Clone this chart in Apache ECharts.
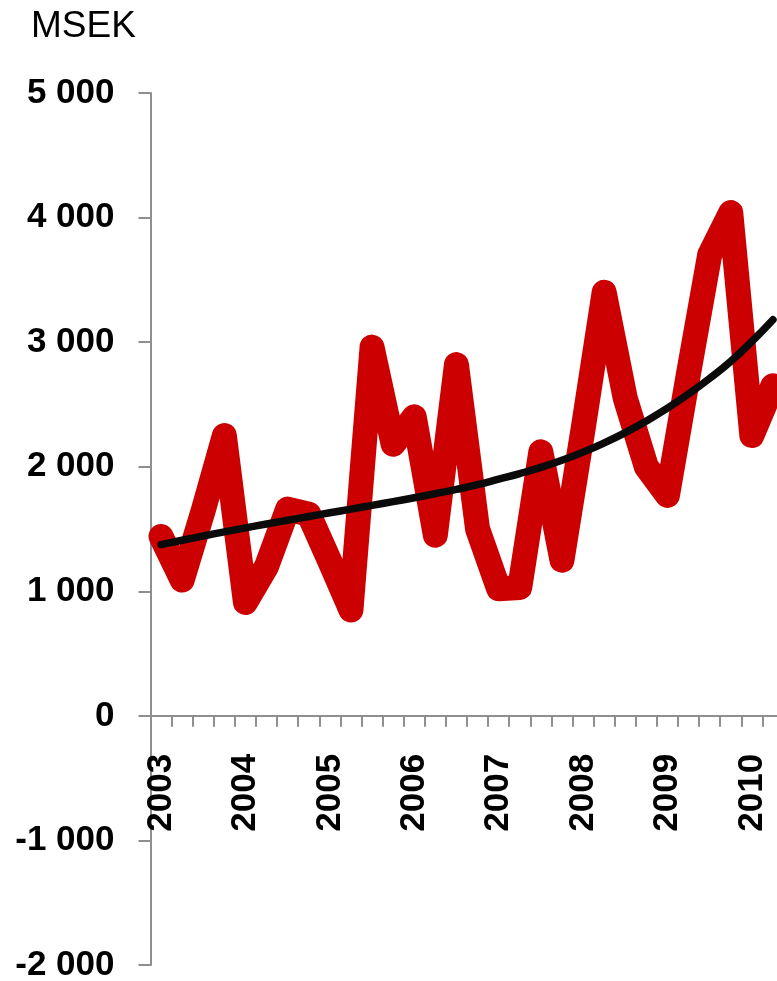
<!DOCTYPE html>
<html>
<head>
<meta charset="utf-8">
<style>
  html, body { margin: 0; padding: 0; background: #fff; overflow: hidden; }
  #chart { width: 790px; height: 981px; }
</style>
<script src="https://cdn.jsdelivr.net/npm/echarts@6/dist/echarts.min.js"></script>
</head>
<body>
<div id="chart"></div>
<script>
// Quarterly periods, 2003 Q1 – 2010 Q2
const quarters = [
  '2003Q1','2003Q2','2003Q3','2003Q4',
  '2004Q1','2004Q2','2004Q3','2004Q4',
  '2005Q1','2005Q2','2005Q3','2005Q4',
  '2006Q1','2006Q2','2006Q3','2006Q4',
  '2007Q1','2007Q2','2007Q3','2007Q4',
  '2008Q1','2008Q2','2008Q3','2008Q4',
  '2009Q1','2009Q2','2009Q3','2009Q4',
  '2010Q1','2010Q2'
];

// Quarterly value, MSEK
const quarterly = [
  1440, 1090, 1650, 2250,
  910, 1200, 1660, 1620,
  1240, 850, 2960, 2180,
  2400, 1450, 2820, 1500,
  1020, 1030, 2120, 1250,
  2300, 3400, 2550, 2000,
  1770, 2750, 3700, 4040,
  2250, 2650
];

// Trend, MSEK
const trend = [
  1375, 1410, 1444, 1477,
  1509, 1540, 1570, 1600,
  1630, 1660, 1690, 1720,
  1751, 1784, 1818, 1856,
  1900, 1945, 1995, 2052,
  2117, 2191, 2274, 2367,
  2470, 2584, 2709, 2846,
  3005, 3180
];

const yMin = -2000, yMax = 5000, yStep = 1000;
const unitLabel = 'MSEK';

const fontFamily = '"Liberation Sans", Arial, sans-serif';

// Plot area
const gridTop = 93, gridHeight = 872, gridLeft = 150.5, gridWidth = 633;
// Distance from the bottom of the plot area up to the zero line
const zeroLift = gridHeight * (0 - yMin) / (yMax - yMin);

function fmtThousands(v) {
  const neg = v < 0;
  const s = String(Math.abs(v)).replace(/\B(?=(\d{3})+(?!\d))/g, ' ');
  return (neg ? '-' : '') + s;
}

const chart = echarts.init(document.getElementById('chart'), null, { renderer: 'canvas' });

chart.setOption({
  backgroundColor: '#ffffff',
  animation: false,
  title: {
    text: unitLabel,
    left: 31,
    top: 8,
    padding: 0,
    textStyle: {
      fontFamily: fontFamily,
      fontWeight: 'normal',
      fontSize: 37,
      color: '#000'
    }
  },
  grid: {
    left: gridLeft,
    top: gridTop,
    width: gridWidth,
    height: gridHeight,
    containLabel: false,
    outerBoundsMode: 'none'
  },
  xAxis: {
    type: 'category',
    data: quarters,
    boundaryGap: true,
    position: 'bottom',
    offset: -zeroLift,
    axisLine: {
      onZero: false,
      lineStyle: { color: '#8e8e8e', width: 2 }
    },
    axisTick: {
      show: true,
      interval: 0,
      length: 11,
      lineStyle: { color: '#8e8e8e', width: 2 }
    },
    axisLabel: {
      interval: 3,
      rotate: 90,
      margin: 38,
      fontFamily: fontFamily,
      fontWeight: 'bold',
      fontSize: 35,
      color: '#000',
      formatter: (v) => v.slice(0, 4)
    },
    splitLine: { show: false }
  },
  yAxis: {
    type: 'value',
    min: yMin,
    max: yMax,
    interval: yStep,
    axisLine: {
      show: true,
      lineStyle: { color: '#8e8e8e', width: 2 }
    },
    axisTick: {
      show: true,
      length: 12,
      lineStyle: { color: '#8e8e8e', width: 2 }
    },
    axisLabel: {
      margin: 36,
      fontFamily: fontFamily,
      fontWeight: 'bold',
      fontSize: 35,
      color: '#000',
      formatter: fmtThousands
    },
    splitLine: { show: false }
  },
  series: [
    {
      name: 'Kvartal',
      type: 'line',
      data: quarterly,
      showSymbol: false,
      symbol: 'none',
      z: 2,
      lineStyle: {
        color: '#cc0000',
        width: 25,
        join: 'round',
        cap: 'round'
      }
    },
    {
      name: 'Trend',
      type: 'line',
      data: trend,
      smooth: true,
      showSymbol: false,
      symbol: 'none',
      z: 3,
      lineStyle: {
        color: '#0a0a0a',
        width: 7.5,
        join: 'round',
        cap: 'round'
      }
    }
  ]
});
</script>
</body>
</html>
